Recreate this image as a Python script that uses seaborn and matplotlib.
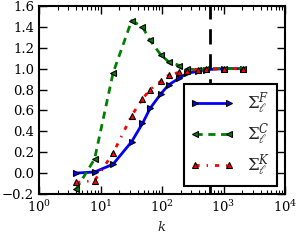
import matplotlib
matplotlib.use('Agg')

import numpy as np
import seaborn as sns
import matplotlib.pyplot as plt

# data
k = [4, 8, 16, 32, 48, 64, 96, 128, 192, 256, 384, 512, 1024, 2048]
sigma_f = [0.0, 0.01, 0.085, 0.30, 0.475, 0.62, 0.76, 0.845, 0.91, 0.955, 0.975, 0.99, 1.0, 1.0]
sigma_c = [-0.155, 0.135, 0.96, 1.46, 1.40, 1.27, 1.13, 1.066, 1.03, 1.0, 0.985, 1.0, 1.0, 1.0]
sigma_k = [-0.09, -0.072, 0.19, 0.55, 0.71, 0.80, 0.88, 0.94, 0.965, 0.98, 0.99, 0.995, 1.0, 1.0]
k_cut = 600

sns.set_style("ticks")
plt.rcParams['font.family'] = ['DejaVu Serif']
plt.rcParams['mathtext.fontset'] = 'dejavuserif'
plt.rcParams['font.size'] = 9.5
plt.rcParams['xtick.direction'] = 'in'
plt.rcParams['ytick.direction'] = 'in'
plt.rcParams['xtick.top'] = True
plt.rcParams['ytick.right'] = True

fig = plt.figure(figsize=(2.96, 2.4), dpi=100)
ax = fig.add_axes([0.132, 0.192, 0.831, 0.783])

common = dict(linewidth=2, markersize=4.5, markeredgecolor='black', markeredgewidth=0.8)
sns.lineplot(x=k, y=sigma_f, ax=ax, color='blue', marker='>',
             markerfacecolor='blue', label=r'$\Sigma_\ell^F$', sort=False, **common)
sns.lineplot(x=k, y=sigma_c, ax=ax, color='green', dashes=(2.6, 2.0), marker='<',
             markerfacecolor='green', label=r'$\Sigma_\ell^C$', sort=False, **common)
sns.lineplot(x=k, y=sigma_k, ax=ax, color='red', dashes=(1.5, 2.5, 0.5, 2.5), marker='^',
             markerfacecolor='red', label=r'$\Sigma_\ell^K$', sort=False, **common)

ax.axvline(k_cut, color='black', linewidth=2, dashes=(5.5, 3.5))

ax.set_xscale('log')
ax.set_xlim(1, 1e4)
ax.set_ylim(-0.2, 1.6)
ax.set_yticks(np.arange(-0.2, 1.61, 0.2))
ax.set_xlabel(r'$k$')

for s in ax.spines.values():
    s.set_linewidth(1.5)
    s.set_color('black')
ax.tick_params(which='major', length=6, width=1, colors='black')
ax.tick_params(which='minor', length=3, width=0.8, colors='black')

leg = ax.legend(loc='lower right', numpoints=2, fontsize=12, handlelength=2.6,
                labelspacing=0.28, borderaxespad=0.5, fancybox=False, framealpha=1)
leg.get_frame().set_edgecolor('black')
leg.get_frame().set_linewidth(1.5)

fig.savefig('out.png', dpi=100)
